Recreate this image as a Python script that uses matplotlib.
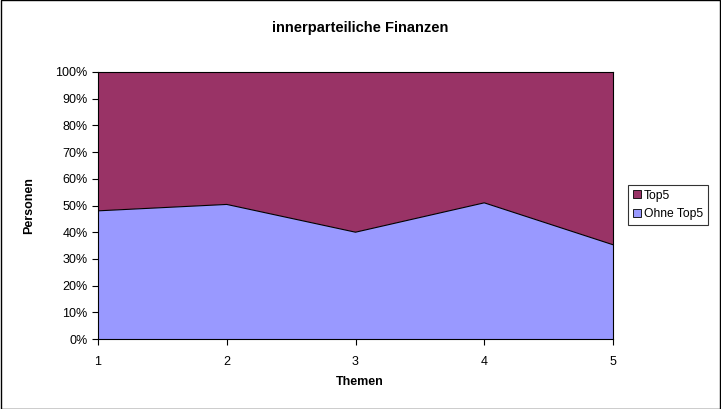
import matplotlib.pyplot as plt
from matplotlib.patches import Rectangle
from matplotlib.ticker import PercentFormatter

plt.rcParams["font.family"] = ["Liberation Sans", "DejaVu Sans"]

themen = [1, 2, 3, 4, 5]
ohne_top5 = [48.0, 50.4, 40.0, 51.0, 35.3]
top5 = [100 - v for v in ohne_top5]
labels = ["Ohne Top5", "Top5"]
colors = ["#9999ff", "#993366"]

W, H = 721, 409
fig = plt.figure(figsize=(W / 100, H / 100), dpi=100)
ax = fig.add_axes([98 / W, 1 - 339 / H, (613 - 98) / W, (339 - 72) / H])

polys = ax.stackplot(themen, ohne_top5, top5, colors=colors, labels=labels)
ax.plot(themen, ohne_top5, color="black", lw=0.8)

ax.set_xlim(1, 5)
ax.set_ylim(0, 100)
ax.set_xticks(themen)
ax.set_yticks(range(0, 101, 10))
ax.yaxis.set_major_formatter(PercentFormatter(decimals=0))
ax.tick_params(labelsize=9, length=4, direction="out")
ax.tick_params(axis="x", pad=8)
for s in ax.spines.values():
    s.set_linewidth(0.8)

ax.set_xlabel("Themen", fontsize=9, fontweight="bold")
ax.xaxis.set_label_coords((360 - 98) / (613 - 98), -(382 - 339) / (339 - 72))
ax.xaxis.label.set_va("center")
ax.set_ylabel("Personen", fontsize=9, fontweight="bold")
ax.yaxis.set_label_coords(-(98 - 29) / (613 - 98), 0.5)
ax.yaxis.label.set_va("center")
fig.text(360 / W, 1 - 28 / H, "innerparteiliche Finanzen", fontsize=10.5,
         fontweight="bold", ha="center", va="center")

handles = [polys[1], polys[0]]
leg = fig.legend(handles, ["Top5", "Ohne Top5"], loc="center left",
                 bbox_to_anchor=(627 / W, 1 - 205 / H), fontsize=8.7,
                 frameon=True, fancybox=False, handlelength=0.65, handleheight=0.65,
                 handletextpad=0.25, borderpad=0.4, borderaxespad=0.1,
                 labelspacing=0.55)
leg.get_frame().set_edgecolor("black")
leg.get_frame().set_linewidth(0.8)
for h in leg.legend_handles:
    h.set_edgecolor("black")
    h.set_linewidth(0.6)

fig.patches.append(Rectangle((0.0007, 0.0012), 0.9986, 0.9976, transform=fig.transFigure,
                             fill=False, edgecolor="black", lw=1))

fig.savefig("out.png", dpi=100)
